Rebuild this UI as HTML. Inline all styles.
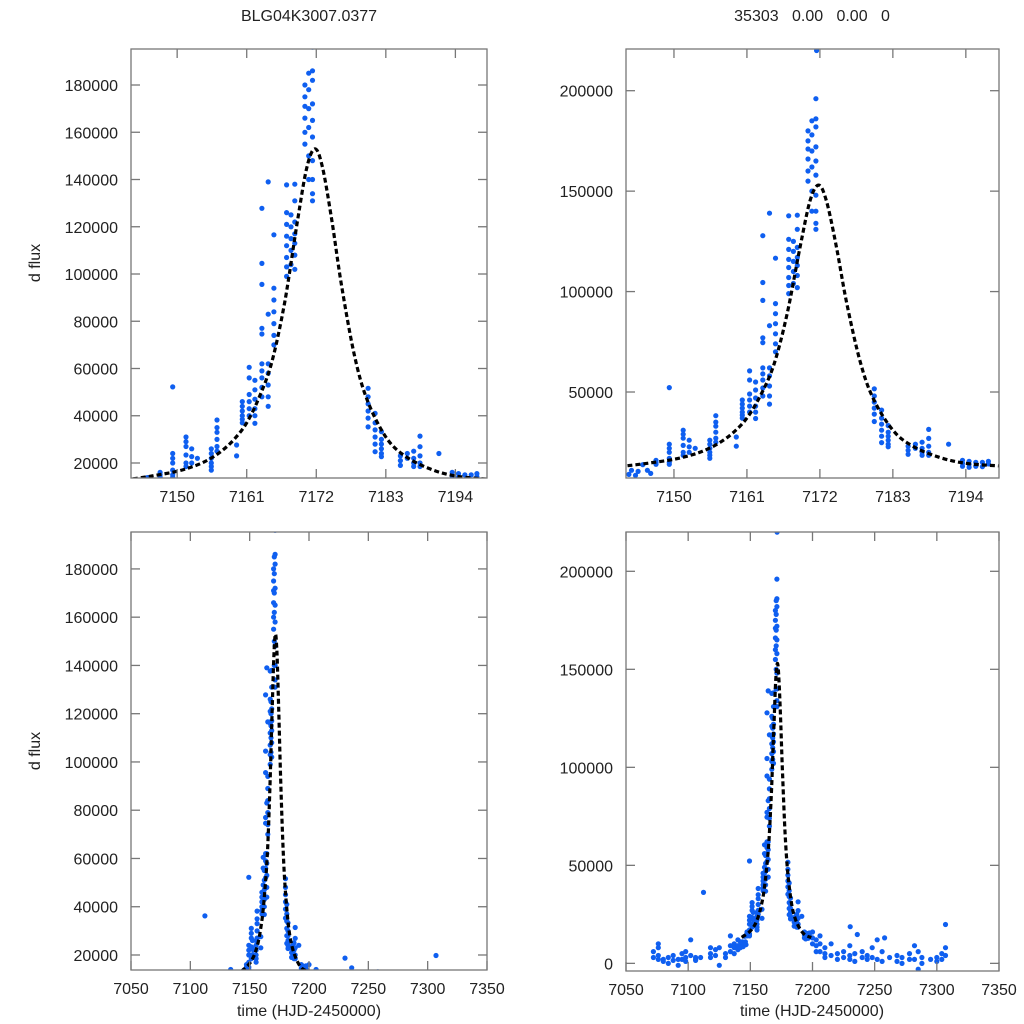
<!DOCTYPE html>
<html><head><meta charset="utf-8">
<style>
html,body{margin:0;padding:0;background:#fff;}
svg{display:block;font-family:"Liberation Sans",sans-serif;}
</style></head>
<body>
<svg id="chart" width="1024" height="1024" viewBox="0 0 1024 1024">
<text x="309" y="21" font-size="16" text-anchor="middle" fill="#222">BLG04K3007.0377</text>
<text x="812" y="21" font-size="16" text-anchor="middle" fill="#222" xml:space="preserve">35303   0.00   0.00   0</text>
<text x="40" y="263" font-size="16" text-anchor="middle" fill="#222" transform="rotate(-90 40 263)">d flux</text>
<text x="40" y="751" font-size="16" text-anchor="middle" fill="#222" transform="rotate(-90 40 751)">d flux</text>
<text x="309" y="1016" font-size="16" text-anchor="middle" fill="#222">time (HJD-2450000)</text>
<text x="812" y="1016" font-size="16" text-anchor="middle" fill="#222">time (HJD-2450000)</text>
</svg>
<script>
// observation times (HJD-2450000) and flux
const obsT = [
7143.2,7143.6,7144.2,7144.6,7145.3,7146.0,7146.5,7147.3,7147.3,7147.3,
7149.3,7149.3,7149.3,7149.3,7149.3,7149.3,7149.3,
7151.4,7151.4,7151.4,7151.4,7151.4,7151.4,7152.3,7152.3,7152.3,7153.2,
7155.4,7155.4,7155.4,7155.4,7155.4,7155.4,7156.3,7156.3,7156.3,7156.3,7156.3,7156.3,
7159.4,7159.4,7160.3,7160.3,7160.3,7160.3,7160.3,7160.3,
7161.4,7161.4,7161.4,7161.4,7161.4,7161.4,7162.3,7162.3,7162.3,7162.3,7162.3,7162.3,
7163.4,7163.4,7163.4,7163.4,7163.4,7163.4,7163.4,7163.4,7163.4,7163.4,
7164.4,7164.4,7164.4,7164.4,7164.4,7164.4,7164.4,
7165.3,7165.3,7165.3,7165.3,7165.3,7165.3,7165.3,
7167.3,7167.3,7167.3,7167.3,7167.3,7167.3,7167.3,7167.3,
7168.0,7168.0,7168.0,7168.0,7168.0,
7168.6,7168.6,7168.6,7168.6,7168.6,7168.6,7168.6,
7170.2,7170.2,7170.2,7170.2,7170.2,7170.2,
7170.8,7170.8,7170.8,7170.8,7170.8,7170.8,
7171.4,7171.4,7171.4,7171.4,7171.4,7171.4,7171.4,7171.4,7171.4,7171.5,7171.4,
7180.2,7180.2,7180.2,7180.2,7180.2,7180.2,
7181.3,7181.3,7181.3,7181.3,7181.3,7181.3,
7182.3,7182.3,7182.3,7182.3,7182.3,7182.3,
7185.3,7185.3,7185.3,7186.4,7186.4,7187.4,7187.4,7187.4,7187.4,
7188.4,7188.4,7188.4,7188.4,7188.4,7191.4,
7193.5,7193.5,7193.5,7194.5,7194.5,7194.5,7195.5,7195.5,7196.5,7196.5,7197.4,7197.4,
7072,7072,7076,7076,7076,7076,7080,7080,7084,7084,7088,7088,7092,7092,7095,7095,
7098,7098,7098,7102,7102,7106,7106,7106,7110,7112.3,7118,7118,7118,7122,7122,7125,7125,
7130,7130,7134,7134,7134,7137,7137,7137,7140,7140,7140,7142,7142,
7200,7200,7200,7203,7203,7203,7206,7206,7206,7210,7210,7210,7215,7215,7220,7220,7225,7225,
7230.3,7230,7230,7230,7234,7234,7236,7240,7240,7244,7244,7248,7248,7252,7252,7256,7256,7258,
7262,7268,7268,7272,7272,7278,7278,7282,7282,7285,7285,7288,7288,7295,7300,7300,7304,7304,
7307,7307,7307];
const obsF = [
9000,11000,8500,10500,13800,11000,9500,14000,15000,16000,
24000,22000,20000,17000,15000,14000,52200,
31000,29000,27000,23400,20000,18500,26000,22700,20000,22000,
26000,24000,22000,20000,18500,17000,38200,35000,33000,30000,27000,25000,
27600,23000,46000,44000,42000,40000,38500,37000,
60500,56000,49000,46000,43000,40000,55000,51000,47000,43000,40000,36800,
62000,59000,56000,52000,48000,127800,104500,95600,77000,74600,
139000,83000,62000,58000,53000,48000,44000,
116600,94000,89000,84000,79000,74000,70000,
137700,126000,121000,116000,112000,107000,103000,99000,
125000,120000,115000,110000,104000,
138000,131000,122000,117000,113000,108000,102000,
180000,175000,171000,166000,160000,155000,
185000,178000,170000,162000,150000,140000,
186000,182000,172000,165000,158000,148000,140000,134000,131000,220000,196000,
51600,48000,45000,42000,39000,35300,
41000,37000,34000,31000,28000,24800,
33300,30000,28000,26000,24000,22700,
23000,21000,19000,24000,22000,25000,22000,20000,18500,
31400,26900,23000,20000,18500,24000,
16000,14500,13000,15500,14000,12500,15000,13000,15000,12800,15500,14200,
6000,3000,10000,8000,4000,2000,2000,1000,3000,0,4000,1500,2000,-1000,5000,2000,
6000,3000,1000,12000,4000,2000,3000,1500,3000,36200,8000,5000,3000,7000,4000,8000,-1000,
3000,5000,9000,14000,6000,10000,8000,5000,12000,9000,7000,11000,8000,
16000,13000,10000,12000,9000,6000,14000,10000,6000,8000,5000,3000,10000,4000,5000,2000,6000,3000,
18700,9000,4000,2000,5000,1000,14700,6000,3000,4000,2000,8000,3000,12000,2000,6000,1000,13000,
3000,4000,1000,3000,0,5000,2000,9000,2000,6000,-3000,3000,0,2000,1000,3000,2000,5000,
19800,8000,4000];
// model curve samples
const modelT = [7143,7146,7150,7153,7155,7157,7159,7161,7163,7165,7167,7169,7170.5,7171.8,7173,7174.5,7176,7178,7180,7183,7186,7190,7194,7199];
const modelF = [13300,14500,16500,19000,21500,25000,30000,37000,48000,63000,88000,122000,145000,153000,145000,122000,95000,66000,47000,31000,23000,17500,14500,13200];

const ticksTopX = [7150,7161,7172,7183,7194];
const ticksBotX = [7050,7100,7150,7200,7250,7300,7350];
const ticksLeftY = [20000,40000,60000,80000,100000,120000,140000,160000,180000];
const ticksRightY = [50000,100000,150000,200000];
const ticksRightYBot = [0,50000,100000,150000,200000];

const NS = 'http://www.w3.org/2000/svg';
const svg = document.getElementById('chart');
function mk(tag, attrs, parent){const e=document.createElementNS(NS,tag);for(const k in attrs)e.setAttribute(k,attrs[k]);(parent||svg).appendChild(e);return e;}

function panel(id, box, xd, yd, xt, yt){
  const [x0,y0,x1,y1]=box;
  const sx=v=>x0+(v-xd[0])/(xd[1]-xd[0])*(x1-x0);
  const sy=v=>y1-(v-yd[0])/(yd[1]-yd[0])*(y1-y0);
  const g=mk('g',{});
  
  
  const cp=mk('clipPath',{id:'cp-'+id},g);
  mk('rect',{x:x0,y:y0,width:x1-x0,height:y1-y0},cp);
  const pts=mk('g',{'clip-path':'url(#cp-'+id+')'},g);
  
  
  for(let i=0;i<obsT.length;i++){
    const t=obsT[i],f=obsF[i];
    if(t<xd[0]||t>xd[1])continue;
    const c=mk('circle',{cx:sx(t).toFixed(1),cy:sy(f).toFixed(1),r:2.6,fill:'#0f5ff0'},pts);
    
    
  }
  const P=modelT.map((t,i)=>[sx(t),sy(modelF[i])]);
  let d='M'+P[0][0].toFixed(1)+','+P[0][1].toFixed(1);
  for(let i=0;i<P.length-1;i++){
    const p0=P[Math.max(0,i-1)],p1=P[i],p2=P[i+1],p3=P[Math.min(P.length-1,i+2)];
    const c1=[p1[0]+(p2[0]-p0[0])/6,p1[1]+(p2[1]-p0[1])/6];
    const c2=[p2[0]-(p3[0]-p1[0])/6,p2[1]-(p3[1]-p1[1])/6];
    d+=' C'+c1.map(v=>v.toFixed(1))+' '+c2.map(v=>v.toFixed(1))+' '+p2.map(v=>v.toFixed(1));
  }
  const ln=mk('path',{d:d,fill:'none',stroke:'#000','stroke-width':3.2,'stroke-dasharray':'5,3','clip-path':'url(#cp-'+id+')'},g);
  
  
  const fr=mk('rect',{x:x0,y:y0,width:x1-x0,height:y1-y0,fill:'none',stroke:'#777','stroke-width':1.3},g);
  
  
  xt.forEach(v=>{
    const X=sx(v);
    mk('line',{x1:X,x2:X,y1:y1,y2:y1-9,stroke:'#777','stroke-width':1.3},g);
    mk('line',{x1:X,x2:X,y1:y0,y2:y0+9,stroke:'#777','stroke-width':1.3},g);
    const tx=mk('text',{x:X,y:y1+24,'font-size':16,'text-anchor':'middle',fill:'#222'},g);
    tx.textContent=v;
    
    
  });
  yt.forEach(v=>{
    const Y=sy(v);
    mk('line',{x1:x0,x2:x0+9,y1:Y,y2:Y,stroke:'#777','stroke-width':1.3},g);
    mk('line',{x1:x1,x2:x1-9,y1:Y,y2:Y,stroke:'#777','stroke-width':1.3},g);
    const tx=mk('text',{x:x0-13,y:Y+6,'font-size':16,'text-anchor':'end',fill:'#222'},g);
    tx.textContent=v;
    
    
  });
}
panel('panel-top-left',[131,49,487,478],[7142.7,7199.0],[13650,195240],ticksTopX,ticksLeftY);
panel('panel-top-right',[626,49,999,478],[7142.77,7199.0],[7190,220760],ticksTopX,ticksRightY);
panel('panel-bottom-left',[131,532,487,970],[7050,7350],[13780,195300],ticksBotX,ticksLeftY);
panel('panel-bottom-right',[626,532,999,971],[7050,7350],[-3900,220050],ticksBotX,ticksRightYBot);
</script>
</body></html>
